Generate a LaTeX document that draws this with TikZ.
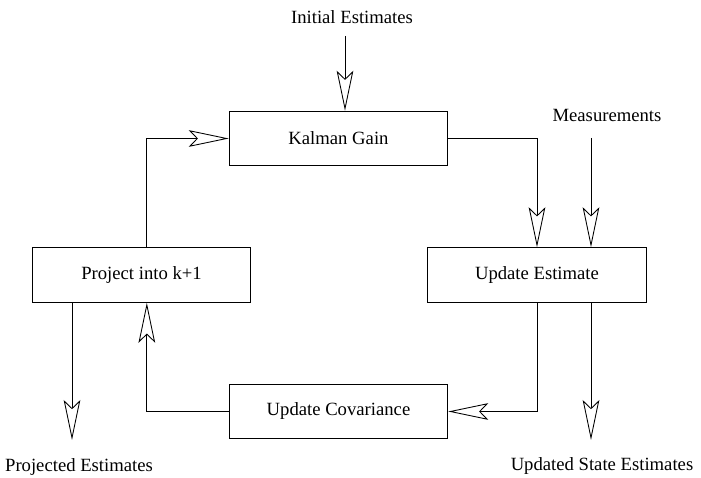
\documentclass[tikz,border=0pt]{standalone}
\usepackage{fontspec}
\setmainfont{Liberation Serif}
\usetikzlibrary{arrows.meta}
\begin{document}
\begin{tikzpicture}[line width = 0.65pt,
                    x = 0.75pt,
                    y = -0.75pt,
                    font = \fontsize{14}{16}\selectfont,
                    box/.style = {rectangle, draw, minimum width = 164pt, minimum height = 41pt},
                    flow/.style = {-{Stealth[fill = white, length = 30pt, width = 12.5pt, inset = 6pt]}}]

    \useasboundingbox (0,0) rectangle (701,478);

    \node[box] (gain) at (338.5,138.5) {Kalman Gain};
    \node[box] (proj) at (141.5,275) {Project into k+1};
    \node[box] (upd)  at (537,275) {Update Estimate};
    \node[box] (cov)  at (338.5,411.5) {Update Covariance};

    \node (init) at (352,17) {Initial Estimates};
    \node (meas) at (607,115) {Measurements};
    \node (projest) at (79,467) {Projected Estimates};
    \node (updest) at (602,466) {Updated State Estimates};

    \coordinate (initin) at (345,36);
    \coordinate (measin) at (591,138);
    \coordinate (projout) at (72,440);
    \coordinate (updout) at (591,440);

    \draw[flow] (initin) -- (initin |- gain.north);
    \draw[flow] (measin) -- (measin |- upd.north);
    \draw[flow] (gain.east) -| (upd.north);
    \draw[flow] ([xshift = 4pt]proj.north) |- (gain.west);
    \draw[flow] (upd.south) |- (cov.east);
    \draw[flow] (cov.west) -| ([xshift = 4pt]proj.south);

    \foreach \i/\j in {proj/projout,
                       upd/updout}
    {
        \draw[flow] (\i.south -| \j) -- (\j);
    }
\end{tikzpicture}
\end{document}
